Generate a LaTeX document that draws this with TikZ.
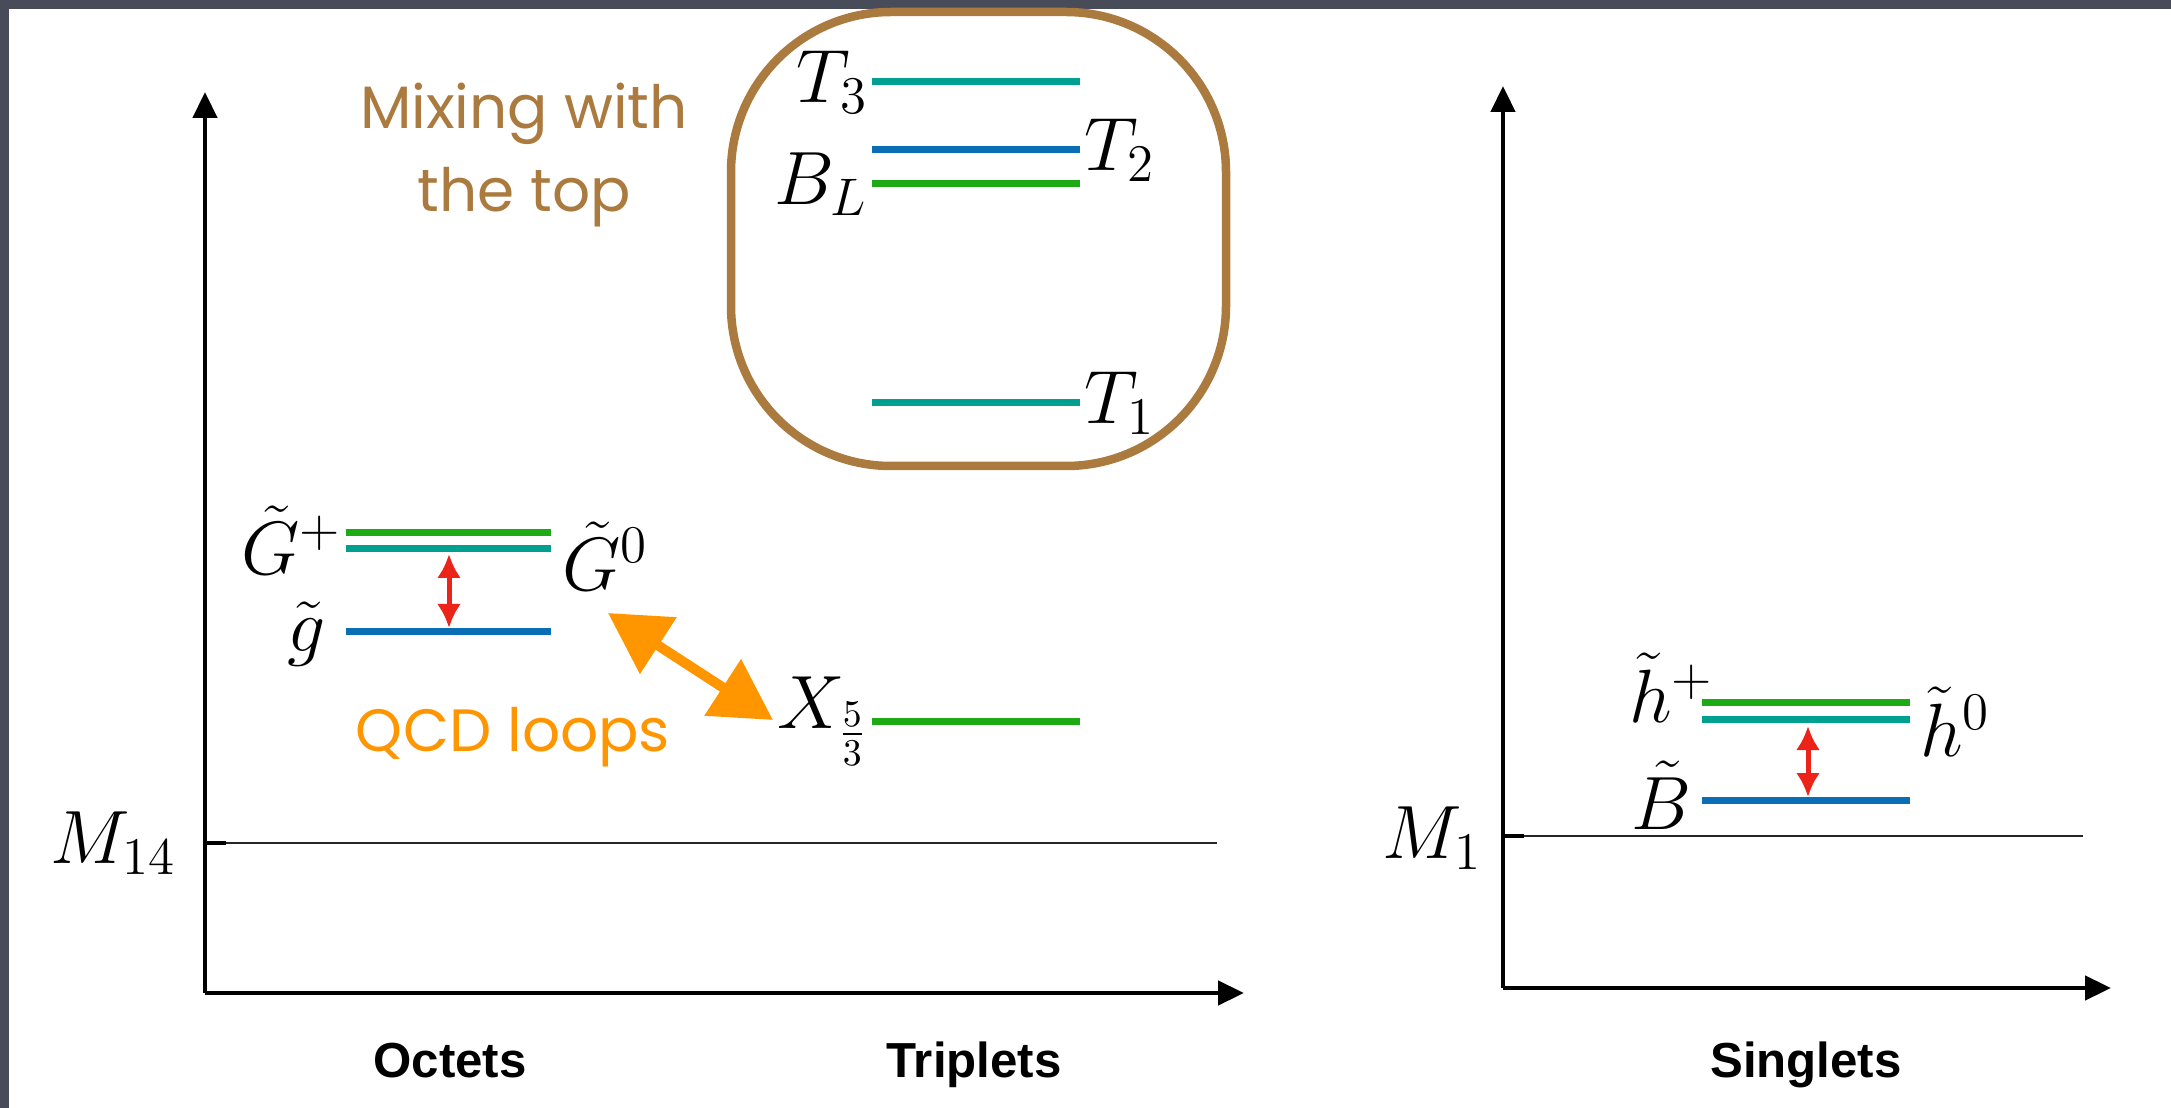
\RequirePackage{fix-cm}
\documentclass[tikz,border=0pt]{standalone}
\usepackage{fontspec}
\usepackage{amsmath}
\newfontfamily\catfont{Liberation Sans}
\newfontfamily\handfont{Poppins}
\usetikzlibrary{arrows.meta}

\definecolor{lvlgreen}{RGB}{30,170,20}
\definecolor{lvlteal}{RGB}{0,160,145}
\definecolor{lvlblue}{RGB}{10,110,180}
\definecolor{gapred}{RGB}{235,35,25}
\definecolor{qcdorange}{RGB}{255,150,0}
\definecolor{mixbrown}{RGB}{170,122,62}
\definecolor{framegray}{RGB}{72,76,88}

\begin{document}
\begin{tikzpicture}[x=0.1mm,y=-0.1mm]

  % One unit = one pixel of the slide, y pointing down.
  \tikzset{
    lvl/.style={line width=0.7mm},
    mlab/.style={font=\fontsize{21.5}{26}\selectfont, inner sep=1pt},
    axis/.style={line width=0.45mm, -{Triangle[length=2.6mm,width=2.4mm]}},
    mline/.style={line width=0.22mm, black!85},
    tick/.style={line width=0.4mm},
    gaparrow/.style={line width=0.5mm, gapred,
      {Latex[length=2.4mm,width=2.4mm]}-{Latex[length=2.4mm,width=2.4mm]}},
    qcdarrow/.style={line width=1mm, qcdorange,
      {Triangle[length=6mm,width=6.5mm]}-{Triangle[length=6mm,width=6.5mm]}},
    hand/.style={font=\handfont\fontsize{17}{23.5}\selectfont, align=center},
    catlab/.style={font=\catfont\bfseries\fontsize{14}{17}\selectfont, anchor=base}
  }

  % Slide frame
  \fill[framegray] (0,0) rectangle (2171,1108);
  \fill[white] (9,9) rectangle (2171,1108);
  \useasboundingbox (0,0) rectangle (2171,1108);

  % Left panel: axes and M_14 threshold
  \coordinate (O1) at (205,993);
  \draw[axis] (O1) -- (205,92);
  \draw[axis] (O1) -- (1244,993);
  \draw[mline] (205,843) coordinate (M14-l) -- (1217,843);
  \draw[tick] (M14-l) -- ++(21,0);
  \node[mlab, anchor=east] (M14-lab) at (180,843) {$M_{14}$};

  % Octet levels
  \foreach \nm/\col/\y in {Gp/lvlgreen/533, G0/lvlteal/549, g/lvlblue/632}
    \draw[lvl,\col] (346,\y) coordinate (\nm-l) -- (551,\y) coordinate (\nm-r);
  \node[mlab, anchor=east] (Gp-lab) at (346,540) {$\tilde G^{+}$};
  \node[mlab, anchor=west] (G0-lab) at (558,556) {$\tilde G^{0}$};
  \node[mlab, anchor=east] (g-lab)  at (330,634) {$\tilde g$};
  \coordinate (gap1-top) at (449,554);
  \coordinate (gap1-bot) at (449,628);
  \draw[gaparrow] (gap1-top) -- (gap1-bot);

  % Triplet levels
  \foreach \nm/\col/\y in {T3/lvlteal/82, T2/lvlblue/150, BL/lvlgreen/184,
                           T1/lvlteal/403, X/lvlgreen/721}
    \draw[lvl,\col] (872,\y) coordinate (\nm-l) -- (1080,\y) coordinate (\nm-r);
  \node[mlab, anchor=east] (T3-lab) at (T3-l) {$T_3$};
  \node[mlab, anchor=west] (T2-lab) at (T2-r) {$T_2$};
  \node[mlab, anchor=east] (BL-lab) at (BL-l) {$B_L$};
  \node[mlab, anchor=west] (T1-lab) at (T1-r) {$T_1$};
  \node[mlab, anchor=east] (X-lab)  at (X-l)  {$X_{\frac{5}{3}}$};

  % Hand-drawn notes
  \draw[line width=0.85mm, mixbrown, rounded corners=16mm] (731,12) rectangle (1226,466);
  \node[hand, mixbrown] (mixing) at (524,155) {Mixing with\\the top};
  \coordinate (qcd-a) at (608,613);
  \coordinate (qcd-b) at (773,720);
  \draw[qcdarrow] (qcd-a) -- (qcd-b);
  \node[hand, qcdorange] (qcd) at (513,737) {QCD loops};

  % Right panel: axes and M_1 threshold
  \coordinate (O2) at (1503,988);
  \draw[axis] (O2) -- (1503,86);
  \draw[axis] (O2) -- (2111,988);
  \draw[mline] (1503,836) coordinate (M1-l) -- (2083,836);
  \draw[tick] (M1-l) -- ++(21,0);
  \node[mlab, anchor=east] (M1-lab) at (1486,838) {$M_1$};

  % Singlet levels
  \foreach \nm/\col/\y in {hp/lvlgreen/703, h0/lvlteal/719, Bt/lvlblue/800}
    \draw[lvl,\col] (1702,\y) coordinate (\nm-l) -- (1910,\y) coordinate (\nm-r);
  \node[mlab, anchor=east] (hp-lab) at (1718,688) {$\tilde h^{+}$};
  \node[mlab, anchor=west] (h0-lab) at (1916,722) {$\tilde h^{0}$};
  \node[mlab, anchor=east] (Bt-lab) at (1696,795) {$\tilde B$};
  \coordinate (gap2-top) at (1808,726);
  \coordinate (gap2-bot) at (1808,797);
  \draw[gaparrow] (gap2-top) -- (gap2-bot);

  % Category names under the axes
  \node[catlab] (oct) at (450,1077) {Octets};
  \node[catlab] (tri) at (974,1077) {Triplets};
  \node[catlab] (sing) at (1806,1077) {Singlets};

\end{tikzpicture}
\end{document}
